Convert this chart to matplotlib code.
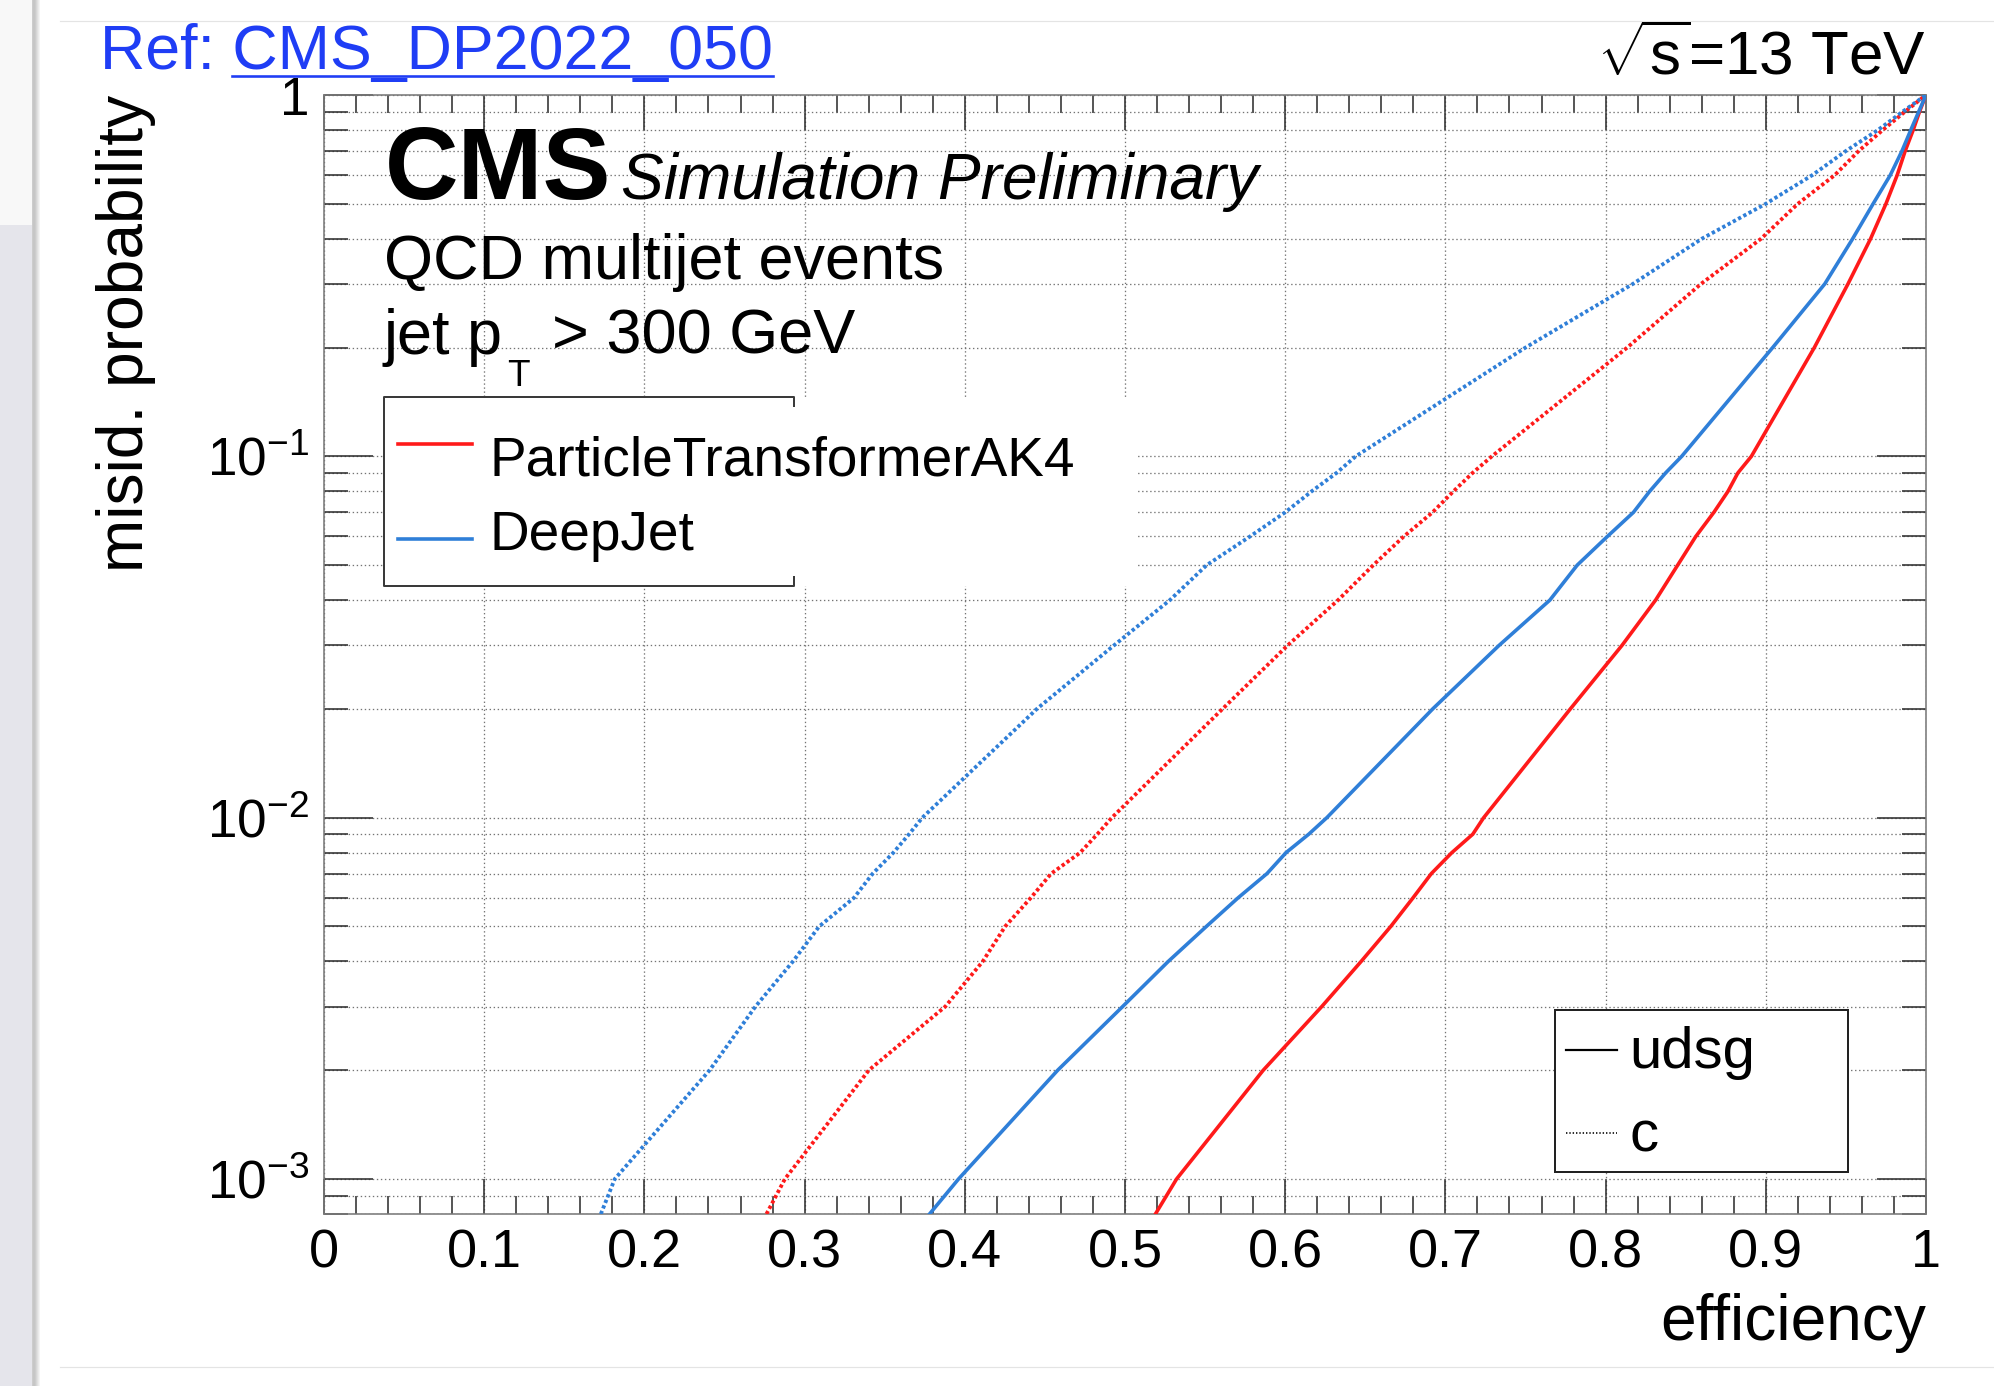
import numpy as np
import matplotlib
matplotlib.use("Agg")
import matplotlib.pyplot as plt
from matplotlib.lines import Line2D
from matplotlib.patches import Rectangle
from matplotlib.ticker import FixedLocator, LogLocator, NullFormatter

# ---------------------------------------------------------------- data
# misid. probability levels at which the efficiency of each tagger is given
misid_levels = [8e-4, 1e-3, 2e-3, 3e-3, 4e-3, 5e-3, 6e-3, 7e-3, 8e-3, 9e-3,
                1e-2, 2e-2, 3e-2, 4e-2, 5e-2, 6e-2, 7e-2, 8e-2, 9e-2,
                0.1, 0.2, 0.3, 0.4, 0.5, 0.6, 0.7, 0.8, 0.9, 1.0]

# ParticleTransformerAK4, b-tagging efficiency vs udsg / c misid.
eff_part_udsg = [0.519, 0.5322, 0.5863, 0.6228, 0.6474, 0.6659, 0.6798, 0.6912,
                 0.704, 0.7171, 0.7239, 0.778, 0.8103, 0.8312, 0.845, 0.8563,
                 0.8676, 0.8764, 0.8826, 0.891, 0.9303, 0.9513, 0.9654, 0.975,
                 0.982, 0.987, 0.992, 0.996, 1.0]
eff_part_c = [0.2762, 0.2877, 0.3401, 0.3878, 0.4112, 0.4252, 0.4412, 0.4539,
              0.4720, 0.4827, 0.4918, 0.5609, 0.6016, 0.633, 0.655, 0.674,
              0.692, 0.705, 0.717, 0.729, 0.8135, 0.8595, 0.897, 0.920,
              0.943, 0.958, 0.973, 0.987, 1.0]

# DeepJet
eff_deepjet_udsg = [0.378, 0.3961, 0.458, 0.4985, 0.527, 0.5508, 0.5706, 0.5886,
                    0.6005, 0.6147, 0.626, 0.6921, 0.7336, 0.7652, 0.7823, 0.8011,
                    0.8174, 0.8275, 0.8375, 0.8475, 0.9043, 0.9368, 0.9542, 0.967,
                    0.9777, 0.985, 0.9905, 0.9955, 1.0]
eff_deepjet_c = [0.1728, 0.1815, 0.2407, 0.2693, 0.2927, 0.3091, 0.3308, 0.3425,
                 0.3554, 0.3652, 0.3735, 0.4450, 0.4932, 0.528, 0.551, 0.578,
                 0.600, 0.6165, 0.6321, 0.644, 0.750, 0.817, 0.860, 0.900,
                 0.929, 0.950, 0.970, 0.9855, 1.0]

tagger_names = ["ParticleTransformerAK4", "DeepJet"]
flavour_names = ["udsg", "c"]

x_ticks = [0.0, 0.1, 0.2, 0.3, 0.4, 0.5, 0.6, 0.7, 0.8, 0.9, 1.0]
x_tick_labels = ["0", "0.1", "0.2", "0.3", "0.4", "0.5", "0.6", "0.7", "0.8", "0.9", "1"]
y_ticks = [1e-3, 1e-2, 1e-1, 1.0]
y_tick_labels = [r"$10^{-3}$", r"$10^{-2}$", r"$10^{-1}$", "1"]

# ---------------------------------------------------------------- style
W, H, DPI = 1994, 1386, 100
PT = 72.0 / DPI          # points per pixel

plt.rcParams["font.family"] = ["Liberation Sans", "DejaVu Sans"]
plt.rcParams["mathtext.fontset"] = "custom"
plt.rcParams["mathtext.rm"] = "Liberation Sans"
plt.rcParams["mathtext.it"] = "Liberation Sans:italic"
plt.rcParams["mathtext.bf"] = "Liberation Sans:bold"
plt.rcParams["mathtext.sf"] = "Liberation Sans"
plt.rcParams["lines.scale_dashes"] = False

RED = "#ff1a1a"
BLUE = "#2f7fd8"
LINK = "#1f3df5"
DOTS = (0, (2.4, 1.9))


def fx(x):
    return x / W


def fy(y):
    return 1.0 - y / H


fig = plt.figure(figsize=(W / DPI, H / DPI), dpi=DPI)
fig.patch.set_facecolor("white")

# slide margin on the left: soft grey strip with a shadow edge
strip_w = 40
strip = np.ones((H, strip_w, 3))
strip[225:, :32, :] = [0.90, 0.90, 0.925]
strip[:225, :32, :] = [0.975, 0.975, 0.975]
shade = np.array([0.80, 0.78, 0.78, 0.80, 0.84, 0.88, 0.92, 0.96])
for i, s in enumerate(shade):
    strip[:, 32 + i, :] = s
bg = fig.add_axes([0, 0, strip_w / W, 1])
bg.imshow(strip, aspect="auto", interpolation="nearest")
bg.set_axis_off()

fig.add_artist(Line2D([fx(60), 1.0], [fy(21), fy(21)], transform=fig.transFigure,
                      color="#e4e4e4", lw=1.2 * PT))
fig.add_artist(Line2D([fx(60), 1.0], [fy(1367), fy(1367)], transform=fig.transFigure,
                      color="#e4e4e4", lw=1.2 * PT))

# ---------------------------------------------------------------- axes
ax_l, ax_r, ax_t, ax_b = 324, 1926, 95, 1214
ax = fig.add_axes([fx(ax_l), fy(ax_b), (ax_r - ax_l) / W, (ax_b - ax_t) / H])
ax.set_yscale("log")
ax.set_xlim(0, 1)
ax.set_ylim(8e-4, 1.0)

lw_curve = 3.6 * PT
lw_dots = 3.8 * PT
ax.plot(eff_part_udsg, misid_levels, color=RED, lw=lw_curve, zorder=5)
ax.plot(eff_part_c, misid_levels, color=RED, lw=lw_dots, ls=DOTS, zorder=5)
ax.plot(eff_deepjet_udsg, misid_levels, color=BLUE, lw=lw_curve, zorder=5)
ax.plot(eff_deepjet_c, misid_levels, color=BLUE, lw=lw_dots, ls=DOTS, zorder=5)

# ticks
ax.xaxis.set_major_locator(FixedLocator(x_ticks))
ax.set_xticklabels(x_tick_labels)
ax.xaxis.set_minor_locator(FixedLocator(np.arange(0, 1.0001, 0.02)))
ax.yaxis.set_major_locator(FixedLocator(y_ticks))
ax.set_yticklabels(y_tick_labels)
ax.yaxis.set_minor_locator(LogLocator(base=10, subs=np.arange(2, 10), numticks=20))
ax.yaxis.set_minor_formatter(NullFormatter())

tick_col = "#303030"
ax.tick_params(axis="x", which="major", direction="in", length=35 * PT, width=1.6 * PT,
               top=True, bottom=True, color=tick_col, labelsize=54 * PT, pad=14 * PT)
ax.tick_params(axis="x", which="minor", direction="in", length=18 * PT, width=1.6 * PT,
               top=True, bottom=True, color=tick_col)
ax.tick_params(axis="y", which="major", direction="in", length=49 * PT, width=1.6 * PT,
               left=True, right=True, color=tick_col, labelsize=53 * PT, pad=15 * PT)
ax.tick_params(axis="y", which="minor", direction="in", length=24 * PT, width=1.6 * PT,
               left=True, right=True, color=tick_col)

for sp in ax.spines.values():
    sp.set_color("#7a7a7a")
    sp.set_linewidth(1.6 * PT)

grid_kw = dict(color="#747474", linewidth=1.3 * PT, linestyle=(0, (1.0, 1.9)))
ax.xaxis.grid(True, which="major", **grid_kw)
ax.yaxis.grid(True, which="both", **grid_kw)
ax.set_axisbelow(True)

# axis titles
fig.text(fx(1926), fy(1340), "efficiency", ha="right", va="baseline", fontsize=64 * PT)
fig.text(fx(143), fy(95), "misid. probability", rotation=90, rotation_mode="anchor",
         ha="right", va="baseline", fontsize=64 * PT)

# ---------------------------------------------------------------- header texts
ref_size = 62.7 * PT
ref_txt = fig.text(fx(100), fy(69), "Ref: CMS_DP2022_050", color=LINK, ha="left",
                   va="baseline", fontsize=ref_size)
fig.text(fx(1926), fy(75), r"$\sqrt{\mathrm{s}}$=13 TeV", ha="right", va="baseline",
         fontsize=62 * PT)

fig.text(fx(385), fy(199), "CMS", fontweight="bold", ha="left", va="baseline",
         fontsize=102 * PT)
fig.text(fx(621), fy(199), "Simulation Preliminary", style="italic", ha="left",
         va="baseline", fontsize=64 * PT)
fig.text(fx(384), fy(279), "QCD multijet events", ha="left", va="baseline", fontsize=63 * PT)
fig.text(fx(384), fy(354), "jet p", ha="left", va="baseline", fontsize=63 * PT)
fig.text(fx(507), fy(386), "T", ha="left", va="baseline", fontsize=37 * PT)
fig.text(fx(552), fy(354), "> 300 GeV", ha="left", va="baseline", fontsize=63 * PT)

# ---------------------------------------------------------------- tagger legend
fig.add_artist(Rectangle((fx(384), fy(586)), (1136 - 384) / W, (586 - 397) / H,
                         transform=fig.transFigure, facecolor="white", edgecolor="none",
                         zorder=2))
frame_col = "#3a3a3a"
box_lw = 2.0 * PT
fig.add_artist(Line2D([fx(794), fx(794), fx(384), fx(384), fx(794), fx(794)],
                      [fy(406), fy(397), fy(397), fy(586), fy(586), fy(577)],
                      transform=fig.transFigure, color=frame_col, lw=box_lw, zorder=3))
fig.add_artist(Line2D([fx(398), fx(472)], [fy(443.7), fy(443.7)], transform=fig.transFigure,
                      color=RED, lw=lw_curve, zorder=3))
fig.add_artist(Line2D([fx(398), fx(472)], [fy(538.5), fy(538.5)], transform=fig.transFigure,
                      color=BLUE, lw=lw_curve, zorder=3))
fig.text(fx(489), fy(475), tagger_names[0], ha="left", va="baseline", fontsize=55 * PT,
         zorder=4)
fig.text(fx(489), fy(550), tagger_names[1], ha="left", va="baseline", fontsize=55 * PT,
         zorder=4)

# ---------------------------------------------------------------- flavour legend
fig.add_artist(Rectangle((fx(1555), fy(1172)), (1848 - 1555) / W, (1172 - 1010) / H,
                         transform=fig.transFigure, facecolor="white",
                         edgecolor="#222222", lw=box_lw, zorder=2))
fig.add_artist(Line2D([fx(1566), fx(1617)], [fy(1049.6), fy(1049.6)],
                      transform=fig.transFigure, color="black", lw=2.2 * PT, zorder=3))
fig.add_artist(Line2D([fx(1566), fx(1617)], [fy(1132.6), fy(1132.6)],
                      transform=fig.transFigure, color="black", lw=1.6 * PT,
                      ls=(0, (1.0, 1.4)), zorder=3))
fig.text(fx(1629), fy(1068.5), flavour_names[0], ha="left", va="baseline",
         fontsize=58 * PT, zorder=4)
fig.text(fx(1629), fy(1151.5), flavour_names[1], ha="left", va="baseline",
         fontsize=58 * PT, zorder=4)

# underline below the document number of the reference link
renderer = fig.canvas.get_renderer()
full_bb = ref_txt.get_window_extent(renderer)
link_w, _, _ = renderer.get_text_width_height_descent(
    "CMS_DP2022_050", ref_txt.get_fontproperties(), ismath=False)
fig.add_artist(Line2D([(full_bb.x1 - link_w) / W, full_bb.x1 / W], [fy(75.5), fy(75.5)],
                      transform=fig.transFigure, color=LINK, lw=2.6 * PT))

fig.savefig("out.png", dpi=DPI)
